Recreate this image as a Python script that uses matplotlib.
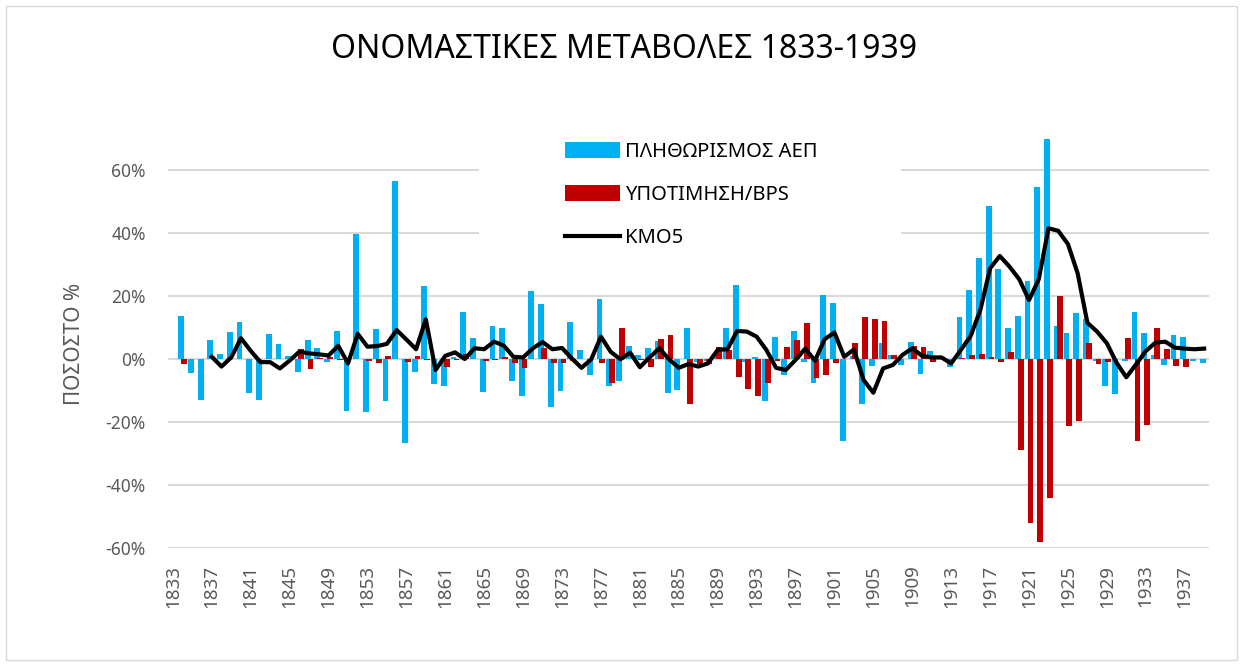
import numpy as np
import matplotlib
matplotlib.use("Agg")
from matplotlib import pyplot as plt
from matplotlib.patches import Patch, Rectangle
from matplotlib.lines import Line2D

plt.rcParams["font.family"] = ["Noto Sans", "DejaVu Sans"]

## --- data (percent) --- ##

years = list(range(1833, 1940))

# ΠΛΗΘΩΡΙΣΜΟΣ ΑΕΠ
inflation = [
    np.nan, 13.8, -4.6, -13.0, 6.0, 1.6, 8.6,  # 1833-1839
    11.7, -10.7, -13.0, 8.0, 4.7, 1.0, -4.2, 6.0, 3.5, -1.0,  # 1840s
    8.8, -16.4, 39.7, -16.9, 9.6, -13.3, 56.4, -26.6, -4.0, 23.3,  # 1850s
    -7.9, -8.5, 0.5, 14.8, 6.8, -10.6, 10.6, 9.7, -7.0, -11.7,  # 1860s
    21.7, 17.6, -15.1, -10.0, 11.6, 2.9, -5.2, 19.2, -8.5, -6.9,  # 1870s
    4.2, 1.2, 3.6, 5.8, -10.7, -9.8, 9.7, -1.0, -0.5, 2.0,  # 1880s
    10.0, 23.6, -1.0, 0.5, -13.3, 7.1, -5.2, 8.9, -1.0, -7.7,  # 1890s
    20.3, 17.8, -26.0, 1.0, -14.3, -2.1, 5.2, 1.3, -1.9, 5.5,  # 1900s
    -4.9, 2.5, 0.5, -2.4, 13.4, 21.9, 32.2, 48.6, 28.6, 10.0,  # 1910s
    13.7, 24.9, 54.7, 75.0, 10.6, 8.4, 14.7, 12.8, -0.5, -8.6,  # 1920s
    -11.2, -0.5, 14.8, 8.1, 1.3, -1.9, 7.6, 7.0, -0.5, -1.4,  # 1930s
]

# ΥΠΟΤΙΜΗΣΗ/BPS
devaluation = [
    np.nan, -1.7, 0.0, 0.0, 0.0, 0.0, 0.0,  # 1833-1839
    0.0, 0.0, 0.0, 0.0, 0.0, 0.0, 3.2, -3.3, 0.3, 0.7,  # 1840s
    -0.3, 0.0, 0.0, -0.5, -1.4, 0.8, 0.0, -0.8, 0.8, -0.3,  # 1850s
    0.0, -2.4, -0.3, 1.5, 0.0, -0.5, -0.3, 0.5, -1.2, -3.0,  # 1860s
    0.0, 3.4, -1.4, -1.2, -0.5, 0.0, 0.0, -1.2, -7.7, 9.7,  # 1870s
    0.0, -0.3, -2.4, 6.2, 7.7, 0.0, -14.4, -1.5, -1.7, 3.9,  # 1880s
    2.9, -5.6, -9.6, -11.7, -7.7, -0.5, 3.9, 6.0, 11.5, -5.9,  # 1890s
    -5.1, -1.4, 0.0, 5.0, 13.4, 12.6, 12.2, 1.3, 0.0, 4.1,  # 1900s
    3.9, -0.8, 0.0, 0.0, 0.3, 1.2, 1.5, 0.5, -0.8, 2.3,  # 1910s
    -28.9, -52.0, -58.0, -44.2, 20.1, -21.2, -19.7, 5.2, -1.6, -1.0,  # 1920s
    0.0, 6.6, -25.9, -21.0, 9.7, 3.1, -2.2, -2.4, 0.0, 0.0,  # 1930s
]

# ΚΜΟ5
kmo5 = [
    np.nan, np.nan, np.nan, np.nan, 0.7, -2.4, 0.5,  # 1833-1839
    6.6, 2.6, -1.0, -1.0, -3.0, -0.5, 2.3, 1.8, 1.5, 1.1,  # 1840s
    4.2, -1.4, 8.0, 3.9, 4.1, 4.8, 9.2, 6.2, 3.1, 12.6,  # 1850s
    -3.5, 1.0, 2.1, 0.0, 3.4, 3.1, 5.5, 4.3, 0.7, 0.5,  # 1860s
    3.4, 5.4, 3.1, 3.5, 0.2, -2.8, -0.1, 7.1, 2.3, -0.1,  # 1870s
    2.0, -2.6, 0.5, 3.4, -0.1, -2.8, -1.6, -2.4, -1.4, 2.9,  # 1880s
    3.1, 8.9, 8.7, 7.1, 2.9, -2.8, -3.5, -0.3, 3.3, -0.5,  # 1890s
    6.3, 8.4, 0.7, 3.0, -6.7, -10.7, -3.0, -1.9, 1.3, 3.4,  # 1900s
    1.0, 0.5, 0.5, -1.4, 2.9, 7.3, 15.6, 28.8, 32.7, 29.3,  # 1910s
    25.3, 18.7, 25.3, 41.5, 40.7, 36.5, 27.2, 11.5, 8.7, 5.0,  # 1920s
    -1.2, -5.8, -1.7, 2.5, 5.2, 5.5, 3.6, 3.3, 3.1, 3.3,  # 1930s
]

assert len(inflation) == len(devaluation) == len(kmo5) == len(years)

labels = ["ΠΛΗΘΩΡΙΣΜΟΣ ΑΕΠ", "ΥΠΟΤΙΜΗΣΗ/BPS", "ΚΜΟ5"]
y_ticks = [-60, -40, -20, 0, 20, 40, 60]

blue = "#00B0F0"
red = "#C00000"
gray = "#595959"

W, H = 1243, 664
fig = plt.figure(figsize=(W / 100, H / 100), dpi=100)

# chart border
fig.patches.append(
    Rectangle((6 / W, 4 / H), (1237 - 6) / W, (H - 10) / H,
              transform=fig.transFigure, fill=False, edgecolor="#D9D9D9", lw=1)
)

left, right, top, bottom = 168, 1209, 138.5, 548
ax = fig.add_axes([left / W, 1 - bottom / H, (right - left) / W, (bottom - top) / H])

x = np.arange(len(years))
ax.bar(x - 0.15, inflation, width=0.6, color=blue, zorder=2)
ax.bar(x + 0.15, devaluation, width=0.6, color=red, zorder=3)
ax.plot(x, kmo5, color="black", lw=3, zorder=4, solid_joinstyle="round")

ax.set_xlim(-0.5, len(years) - 0.5)
ax.set_ylim(-60, 70)
ax.set_yticks(y_ticks, [f"{v}%" for v in y_ticks])
ax.set_xticks(x[::4], [str(y) for y in years[::4]], rotation=90)
ax.tick_params(axis="y", length=0, pad=16, labelsize=12.5, labelcolor=gray)
ax.tick_params(axis="x", length=0, pad=12, labelsize=13.5, labelcolor=gray)

ax.grid(axis="y", color="#D9D9D9", lw=1.5)
ax.set_axisbelow(True)
for s in ax.spines.values():
    s.set_visible(False)

# white box behind the legend hides the gridlines there
ax.add_patch(
    Rectangle((479 / W, 1 - 262 / H), (901 - 479) / W, 130 / H,
              transform=fig.transFigure, facecolor="white", edgecolor="none", zorder=1)
)

handles = [
    Patch(facecolor=blue, edgecolor="none"),
    Patch(facecolor=red, edgecolor="none"),
    Line2D([], [], color="black", lw=3),
]
fig.legend(
    handles, labels, loc="upper left", bbox_to_anchor=(565 / W, 1 - 142 / H),
    frameon=False, fontsize=14.5, handlelength=2.75, handleheight=0.8,
    handletextpad=0.25, labelspacing=1.15, borderpad=0, borderaxespad=0,
)

fig.text(624 / W, 1 - 50 / H, "ΟΝΟΜΑΣΤΙΚΕΣ ΜΕΤΑΒΟΛΕΣ 1833-1939",
         ha="center", va="center", fontsize=23, color="black")
fig.text(75 / W, 1 - 344 / H, "ΠΟΣΟΣΤΟ %", rotation=90,
         ha="center", va="center", fontsize=15, color=gray)

plt.savefig("out.png", dpi=100)
